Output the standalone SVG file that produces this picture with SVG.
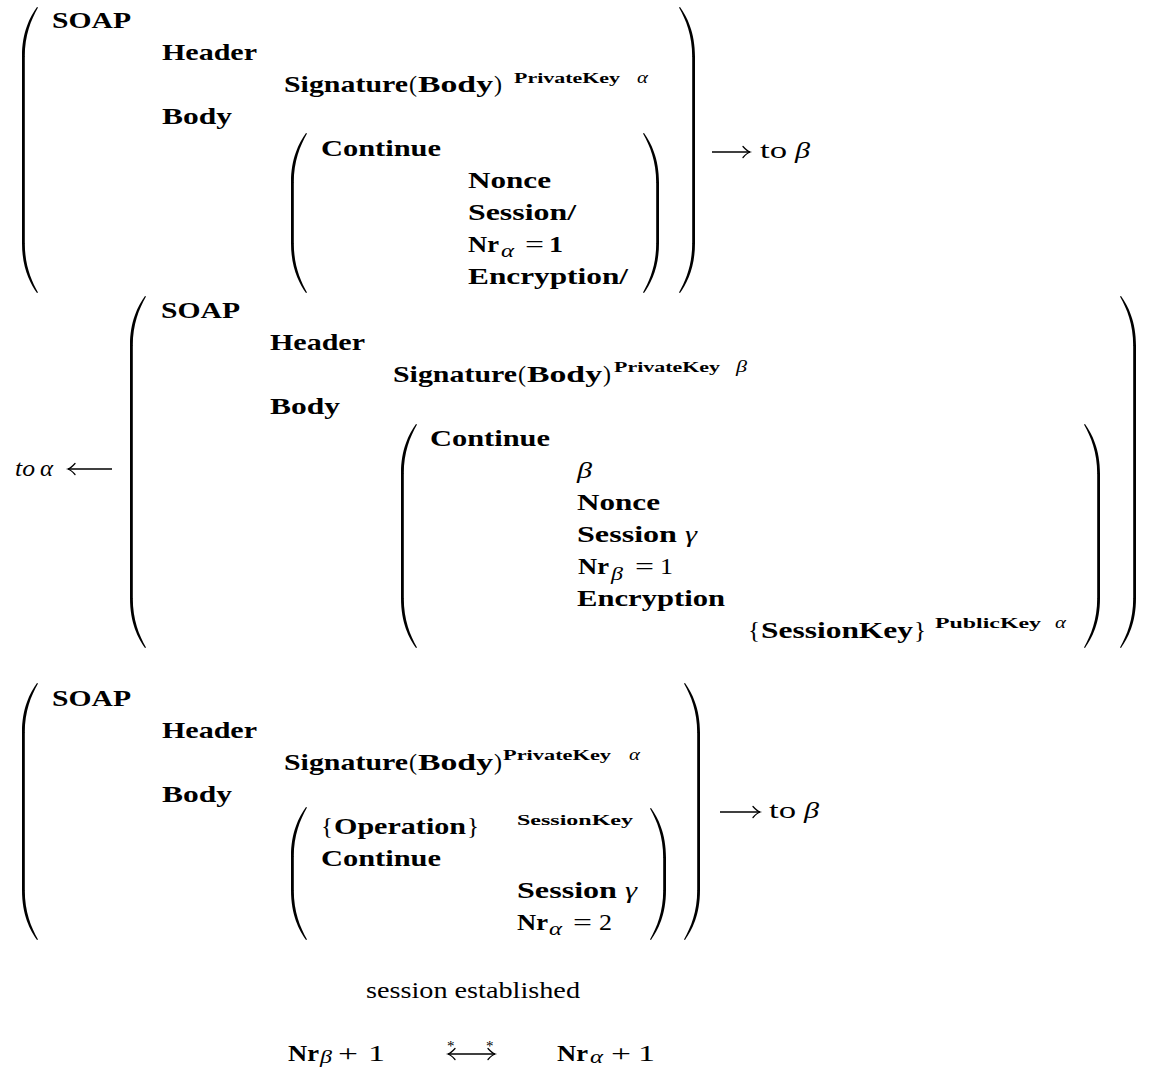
<svg xmlns="http://www.w3.org/2000/svg" xmlns:xlink="http://www.w3.org/1999/xlink" width="1150" height="1068" viewBox="0 0 1150 1068">
  <style>
    text { fill: #000; }
    .b  { font: bold 24px "Liberation Serif", serif; }
    .r  { font: 24px "Liberation Serif", serif; }
    .i  { font: italic 24px "Liberation Serif", serif; }
    .sb { font: bold 15px "Liberation Serif", serif; }
    .si { font: italic 17px "Liberation Serif", serif; }
    .ss { font: italic 18px "Liberation Serif", serif; }
    .st { font: 15px "Liberation Serif", serif; }
    .paren { fill: #000; }
    .shaft { stroke: #000; stroke-width: 1.3; fill: none; }
    .head  { stroke: #000; stroke-width: 1.3; fill: none; stroke-linecap: round; }
  </style>
  <defs>
    <!-- upper end of a tall left parenthesis; vertical stem starts at (0,0) -->
    <path id="cap" d="M15,-50 C8,-40 0,-25 0,0 L2.8,0 C2.8,-22 9,-37 16,-49.5 Z"/>
    <!-- arrow head, tip at origin, pointing right -->
    <path id="ah" d="M-7,-5.5 Q-3,-1 0,0 Q-3,1 -7,5.5"/>
  </defs>

  <rect width="1150" height="1068" fill="#fff"/>

  <!-- message 1: alpha to beta -->
  <g id="msg1">
    <g class="paren">
      <use xlink:href="#cap" transform="translate(22,57)"/>
      <rect x="22" y="56.5" width="2.8" height="187"/>
      <use xlink:href="#cap" transform="translate(22,243) scale(1,-1)"/>
      <use xlink:href="#cap" transform="translate(695,57) scale(-1,1)"/>
      <rect x="692.2" y="56.5" width="2.8" height="187"/>
      <use xlink:href="#cap" transform="translate(695,243) scale(-1,-1)"/>
      <use xlink:href="#cap" transform="translate(291,183)"/>
      <rect x="291" y="182.5" width="2.8" height="61"/>
      <use xlink:href="#cap" transform="translate(291,243) scale(1,-1)"/>
      <use xlink:href="#cap" transform="translate(659,183) scale(-1,1)"/>
      <rect x="656.2" y="182.5" width="2.8" height="61"/>
      <use xlink:href="#cap" transform="translate(659,243) scale(-1,-1)"/>
    </g>
    <text class="b" x="52" y="28" textLength="79" lengthAdjust="spacingAndGlyphs">SOAP</text>
    <text class="b" x="162" y="60" textLength="95" lengthAdjust="spacingAndGlyphs">Header</text>
    <text class="b" x="284" y="92" textLength="124" lengthAdjust="spacingAndGlyphs">Signature</text>
    <text class="r" x="409" y="92">(</text>
    <text class="b" x="418" y="92" textLength="75" lengthAdjust="spacingAndGlyphs">Body</text>
    <text class="r" x="494" y="92">)</text>
    <text class="sb" x="514" y="83" textLength="106" lengthAdjust="spacingAndGlyphs">PrivateKey</text>
    <text class="si" x="637" y="83" textLength="11" lengthAdjust="spacingAndGlyphs">α</text>
    <text class="b" x="162" y="124" textLength="70" lengthAdjust="spacingAndGlyphs">Body</text>
    <text class="b" x="321" y="156" textLength="120" lengthAdjust="spacingAndGlyphs">Continue</text>
    <text class="b" x="468" y="188" textLength="83" lengthAdjust="spacingAndGlyphs">Nonce</text>
    <text class="b" x="468" y="220" textLength="108" lengthAdjust="spacingAndGlyphs">Session/</text>
    <text class="b" x="468" y="252" textLength="31" lengthAdjust="spacingAndGlyphs">Nr</text>
    <text class="ss" x="501" y="257" textLength="13" lengthAdjust="spacingAndGlyphs">α</text>
    <text class="r" x="525" y="252" textLength="19" lengthAdjust="spacingAndGlyphs">=</text>
    <text class="b" x="549" y="252" textLength="14" lengthAdjust="spacingAndGlyphs">1</text>
    <text class="b" x="468" y="284" textLength="160" lengthAdjust="spacingAndGlyphs">Encryption/</text>
    <text class="r" x="760" y="158" textLength="27" lengthAdjust="spacingAndGlyphs">to</text>
    <text class="i" x="795" y="158" textLength="15" lengthAdjust="spacingAndGlyphs">β</text>
  </g>

  <!-- message 2: beta to alpha -->
  <g id="msg2">
    <g class="paren">
      <use xlink:href="#cap" transform="translate(130,346)"/>
      <rect x="130" y="345.5" width="2.8" height="253"/>
      <use xlink:href="#cap" transform="translate(130,598) scale(1,-1)"/>
      <use xlink:href="#cap" transform="translate(1136,346) scale(-1,1)"/>
      <rect x="1133.2" y="345.5" width="2.8" height="253"/>
      <use xlink:href="#cap" transform="translate(1136,598) scale(-1,-1)"/>
      <use xlink:href="#cap" transform="translate(401,474)"/>
      <rect x="401" y="473.5" width="2.8" height="125"/>
      <use xlink:href="#cap" transform="translate(401,598) scale(1,-1)"/>
      <use xlink:href="#cap" transform="translate(1100,474) scale(-1,1)"/>
      <rect x="1097.2" y="473.5" width="2.8" height="125"/>
      <use xlink:href="#cap" transform="translate(1100,598) scale(-1,-1)"/>
    </g>
    <text class="i" x="15" y="476" textLength="20" lengthAdjust="spacingAndGlyphs">to</text>
    <text class="i" x="40" y="476" textLength="13" lengthAdjust="spacingAndGlyphs">α</text>
    <text class="b" x="161" y="318" textLength="79" lengthAdjust="spacingAndGlyphs">SOAP</text>
    <text class="b" x="270" y="350" textLength="95" lengthAdjust="spacingAndGlyphs">Header</text>
    <text class="b" x="393" y="382" textLength="124" lengthAdjust="spacingAndGlyphs">Signature</text>
    <text class="r" x="518" y="382">(</text>
    <text class="b" x="527" y="382" textLength="75" lengthAdjust="spacingAndGlyphs">Body</text>
    <text class="r" x="603" y="382">)</text>
    <text class="sb" x="614" y="372" textLength="106" lengthAdjust="spacingAndGlyphs">PrivateKey</text>
    <text class="si" x="736" y="372" textLength="11" lengthAdjust="spacingAndGlyphs">β</text>
    <text class="b" x="270" y="414" textLength="70" lengthAdjust="spacingAndGlyphs">Body</text>
    <text class="b" x="430" y="446" textLength="120" lengthAdjust="spacingAndGlyphs">Continue</text>
    <text class="i" x="577" y="478" textLength="15" lengthAdjust="spacingAndGlyphs">β</text>
    <text class="b" x="577" y="510" textLength="83" lengthAdjust="spacingAndGlyphs">Nonce</text>
    <text class="b" x="577" y="542" textLength="100" lengthAdjust="spacingAndGlyphs">Session</text>
    <text class="i" x="685" y="542" textLength="12" lengthAdjust="spacingAndGlyphs">γ</text>
    <text class="b" x="578" y="574" textLength="31" lengthAdjust="spacingAndGlyphs">Nr</text>
    <text class="ss" x="611" y="580" textLength="12" lengthAdjust="spacingAndGlyphs">β</text>
    <text class="r" x="635" y="574" textLength="19" lengthAdjust="spacingAndGlyphs">=</text>
    <text class="r" x="660" y="574" textLength="13" lengthAdjust="spacingAndGlyphs">1</text>
    <text class="b" x="577" y="606" textLength="148" lengthAdjust="spacingAndGlyphs">Encryption</text>
    <text class="r" x="748" y="638" textLength="12" lengthAdjust="spacingAndGlyphs">{</text>
    <text class="b" x="761" y="638" textLength="152" lengthAdjust="spacingAndGlyphs">SessionKey</text>
    <text class="r" x="914" y="638" textLength="12" lengthAdjust="spacingAndGlyphs">}</text>
    <text class="sb" x="935" y="628" textLength="106" lengthAdjust="spacingAndGlyphs">PublicKey</text>
    <text class="si" x="1055" y="628" textLength="11" lengthAdjust="spacingAndGlyphs">α</text>
  </g>

  <!-- message 3: operation inside the session -->
  <g id="msg3">
    <g class="paren">
      <use xlink:href="#cap" transform="translate(22,733)"/>
      <rect x="22" y="732.5" width="2.8" height="158"/>
      <use xlink:href="#cap" transform="translate(22,890) scale(1,-1)"/>
      <use xlink:href="#cap" transform="translate(700,733) scale(-1,1)"/>
      <rect x="697.2" y="732.5" width="2.8" height="158"/>
      <use xlink:href="#cap" transform="translate(700,890) scale(-1,-1)"/>
      <use xlink:href="#cap" transform="translate(291,857)"/>
      <rect x="291" y="856.5" width="2.8" height="34"/>
      <use xlink:href="#cap" transform="translate(291,890) scale(1,-1)"/>
      <use xlink:href="#cap" transform="translate(666,858) scale(-1,1)"/>
      <rect x="663.2" y="857.5" width="2.8" height="33"/>
      <use xlink:href="#cap" transform="translate(666,890) scale(-1,-1)"/>
    </g>
    <text class="b" x="52" y="706" textLength="79" lengthAdjust="spacingAndGlyphs">SOAP</text>
    <text class="b" x="162" y="738" textLength="95" lengthAdjust="spacingAndGlyphs">Header</text>
    <text class="b" x="284" y="770" textLength="124" lengthAdjust="spacingAndGlyphs">Signature</text>
    <text class="r" x="409" y="770">(</text>
    <text class="b" x="418" y="770" textLength="75" lengthAdjust="spacingAndGlyphs">Body</text>
    <text class="r" x="494" y="770">)</text>
    <text class="sb" x="503" y="760" textLength="108" lengthAdjust="spacingAndGlyphs">PrivateKey</text>
    <text class="si" x="629" y="760" textLength="11" lengthAdjust="spacingAndGlyphs">α</text>
    <text class="b" x="162" y="802" textLength="70" lengthAdjust="spacingAndGlyphs">Body</text>
    <text class="r" x="321" y="834" textLength="12" lengthAdjust="spacingAndGlyphs">{</text>
    <text class="b" x="334" y="834" textLength="132" lengthAdjust="spacingAndGlyphs">Operation</text>
    <text class="r" x="467" y="834" textLength="12" lengthAdjust="spacingAndGlyphs">}</text>
    <text class="sb" x="517" y="825" textLength="116" lengthAdjust="spacingAndGlyphs">SessionKey</text>
    <text class="b" x="321" y="866" textLength="120" lengthAdjust="spacingAndGlyphs">Continue</text>
    <text class="b" x="517" y="898" textLength="100" lengthAdjust="spacingAndGlyphs">Session</text>
    <text class="i" x="625" y="898" textLength="12" lengthAdjust="spacingAndGlyphs">γ</text>
    <text class="b" x="517" y="930" textLength="31" lengthAdjust="spacingAndGlyphs">Nr</text>
    <text class="ss" x="549" y="935" textLength="13" lengthAdjust="spacingAndGlyphs">α</text>
    <text class="r" x="573" y="930" textLength="19" lengthAdjust="spacingAndGlyphs">=</text>
    <text class="r" x="599" y="930" textLength="13" lengthAdjust="spacingAndGlyphs">2</text>
    <text class="r" x="769" y="818" textLength="27" lengthAdjust="spacingAndGlyphs">to</text>
    <text class="i" x="804" y="818" textLength="15" lengthAdjust="spacingAndGlyphs">β</text>
  </g>

  <!-- counters after the handshake -->
  <g id="summary">
    <text class="r" x="366" y="998" textLength="214" lengthAdjust="spacingAndGlyphs">session established</text>
    <text class="b" x="288" y="1061" textLength="31" lengthAdjust="spacingAndGlyphs">Nr</text>
    <text class="ss" x="320" y="1063" textLength="12" lengthAdjust="spacingAndGlyphs">β</text>
    <text class="r" x="338" y="1061" textLength="20" lengthAdjust="spacingAndGlyphs">+</text>
    <text class="r" x="368" y="1061" textLength="17" lengthAdjust="spacingAndGlyphs">1</text>
    <text class="b" x="557" y="1061" textLength="31" lengthAdjust="spacingAndGlyphs">Nr</text>
    <text class="ss" x="590" y="1063" textLength="13" lengthAdjust="spacingAndGlyphs">α</text>
    <text class="r" x="611" y="1061" textLength="20" lengthAdjust="spacingAndGlyphs">+</text>
    <text class="r" x="638" y="1061" textLength="17" lengthAdjust="spacingAndGlyphs">1</text>
    <text class="st" x="447" y="1051">*</text>
    <text class="st" x="486" y="1051">*</text>
  </g>

  <g id="connectors">
    <!-- msg1 -> beta -->
    <line class="shaft" x1="712" y1="152" x2="750" y2="152"/>
    <use class="head" xlink:href="#ah" transform="translate(750,152)"/>
    <!-- msg2 -> alpha -->
    <line class="shaft" x1="68" y1="469" x2="112" y2="469"/>
    <use class="head" xlink:href="#ah" transform="translate(68,469) scale(-1,1)"/>
    <!-- msg3 -> beta -->
    <line class="shaft" x1="720" y1="812" x2="760" y2="812"/>
    <use class="head" xlink:href="#ah" transform="translate(760,812)"/>
    <!-- two-way exchange -->
    <line class="shaft" x1="448" y1="1054" x2="495" y2="1054"/>
    <use class="head" xlink:href="#ah" transform="translate(448,1054) scale(-1,1)"/>
    <use class="head" xlink:href="#ah" transform="translate(495,1054)"/>
  </g>
</svg>
